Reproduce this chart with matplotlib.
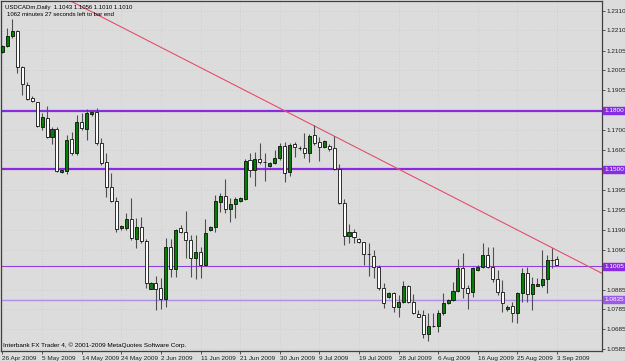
import matplotlib
matplotlib.use("Agg")
import matplotlib.pyplot as plt
import numpy as np

# ---- data (USDCADm, Daily) ----
opens = [1.2100, 1.2129, 1.2180, 1.2206, 1.2024, 1.1930, 1.1866, 1.1842, 1.1718, 1.1760,
         1.1667, 1.1704, 1.1486, 1.1493, 1.1653, 1.1582, 1.1743, 1.1704, 1.1781, 1.1791,
         1.1633, 1.1539, 1.1408, 1.1340, 1.1199, 1.1199, 1.1245, 1.1145, 1.1207, 1.1136,
         1.0891, 1.0919, 1.0893, 1.0837, 1.1102, 1.0990, 1.1199, 1.1182, 1.1140, 1.1046,
         1.1080, 1.1012, 1.1191, 1.1204, 1.1335, 1.1364, 1.1296, 1.1322, 1.1340, 1.1347,
         1.1548, 1.1497, 1.1551, 1.1537, 1.1517, 1.1531, 1.1556, 1.1619, 1.1488, 1.1628,
         1.1611, 1.1610, 1.1585, 1.1675, 1.1641, 1.1612, 1.1619, 1.1607, 1.1500, 1.1330,
         1.1160, 1.1179, 1.1143, 1.1128, 1.1068, 1.1059, 1.1000, 1.0893, 1.0847, 1.0868,
         1.0799, 1.0825, 1.0905, 1.0825, 1.0760, 1.0757, 1.0658, 1.0701, 1.0703, 1.0766,
         1.0817, 1.0834, 1.0881, 1.0995, 1.0893, 1.0873, 1.0987, 1.1000, 1.1061, 1.1000,
         1.0939, 1.0876, 1.0786, 1.0803, 1.0769, 1.0871, 1.0973, 1.0864, 1.0907, 1.0910,
         1.0939, 1.1037, 1.1043]
highs = [1.2135, 1.2220, 1.2266, 1.2211, 1.2027, 1.1946, 1.1874, 1.1844, 1.1788, 1.1823,
         1.1718, 1.1716, 1.1500, 1.1675, 1.1692, 1.1777, 1.1786, 1.1806, 1.1803, 1.1811,
         1.1660, 1.1582, 1.1480, 1.1360, 1.1216, 1.1276, 1.1352, 1.1252, 1.1258, 1.1145,
         1.0925, 1.0956, 1.0944, 1.1148, 1.1143, 1.1196, 1.1216, 1.1289, 1.1165, 1.1165,
         1.1105, 1.1245, 1.1211, 1.1369, 1.1378, 1.1449, 1.1352, 1.1361, 1.1361, 1.1551,
         1.1585, 1.1590, 1.1636, 1.1585, 1.1536, 1.1599, 1.1633, 1.1641, 1.1636, 1.1641,
         1.1620, 1.1684, 1.1680, 1.1726, 1.1667, 1.1650, 1.1629, 1.1670, 1.1527, 1.1347,
         1.1221, 1.1194, 1.1150, 1.1131, 1.1123, 1.1088, 1.1012, 1.0919, 1.0873, 1.0876,
         1.0859, 1.0932, 1.0912, 1.0864, 1.0784, 1.0782, 1.0766, 1.0766, 1.0782, 1.0868,
         1.0840, 1.0927, 1.1041, 1.1072, 1.0910, 1.1000, 1.1010, 1.1123, 1.1105, 1.1105,
         1.0986, 1.0935, 1.0808, 1.0825, 1.0876, 1.0995, 1.1000, 1.0949, 1.0946, 1.1088,
         1.1063, 1.1097, 1.1056]
lows = [1.2095, 1.2124, 1.2169, 1.1990, 1.1879, 1.1854, 1.1844, 1.1716, 1.1701, 1.1660,
        1.1629, 1.1486, 1.1482, 1.1476, 1.1573, 1.1573, 1.1701, 1.1650, 1.1772, 1.1624,
        1.1522, 1.1360, 1.1332, 1.1182, 1.1191, 1.1191, 1.1140, 1.1097, 1.1123, 1.0893,
        1.0888, 1.0782, 1.0785, 1.0799, 1.0952, 1.0952, 1.1174, 1.1046, 1.0952, 1.0939,
        1.0944, 1.1007, 1.1185, 1.1182, 1.1284, 1.1276, 1.1233, 1.1250, 1.1333, 1.1344,
        1.1463, 1.1415, 1.1527, 1.1442, 1.1512, 1.1527, 1.1547, 1.1437, 1.1466, 1.1561,
        1.1598, 1.1556, 1.1539, 1.1624, 1.1544, 1.1607, 1.1593, 1.1497, 1.1323, 1.1114,
        1.1123, 1.1123, 1.1125, 1.1012, 1.0957, 1.0944, 1.0884, 1.0791, 1.0843, 1.0774,
        1.0745, 1.0820, 1.0820, 1.0762, 1.0745, 1.0638, 1.0626, 1.0697, 1.0672, 1.0757,
        1.0812, 1.0830, 1.0876, 1.0842, 1.0786, 1.0851, 1.0983, 1.0995, 1.0995, 1.0927,
        1.0859, 1.0774, 1.0778, 1.0723, 1.0718, 1.0825, 1.0825, 1.0782, 1.0905, 1.0902,
        1.0868, 1.0995, 1.1010]
closes = [1.2129, 1.2180, 1.2206, 1.2024, 1.1934, 1.1859, 1.1849, 1.1723, 1.1766, 1.1667,
          1.1704, 1.1493, 1.1496, 1.1650, 1.1582, 1.1743, 1.1709, 1.1789, 1.1793, 1.1633,
          1.1534, 1.1408, 1.1339, 1.1194, 1.1211, 1.1247, 1.1148, 1.1207, 1.1136, 1.0919,
          1.0922, 1.0891, 1.0837, 1.1102, 1.0990, 1.1191, 1.1182, 1.1140, 1.1046, 1.1077,
          1.1012, 1.1174, 1.1204, 1.1339, 1.1364, 1.1296, 1.1322, 1.1349, 1.1355, 1.1544,
          1.1497, 1.1551, 1.1539, 1.1535, 1.1531, 1.1556, 1.1619, 1.1483, 1.1624, 1.1616,
          1.1609, 1.1585, 1.1670, 1.1636, 1.1612, 1.1645, 1.1604, 1.1500, 1.1330, 1.1160,
          1.1179, 1.1153, 1.1128, 1.1068, 1.1066, 1.1000, 1.0893, 1.0820, 1.0868, 1.0799,
          1.0825, 1.0905, 1.0825, 1.0769, 1.0748, 1.0658, 1.0701, 1.0703, 1.0766, 1.0820,
          1.0834, 1.0881, 1.0995, 1.0893, 1.0868, 1.0995, 1.1004, 1.1061, 1.1000, 1.0939,
          1.0876, 1.0817, 1.0800, 1.0769, 1.0871, 1.0973, 1.0864, 1.0915, 1.0914, 1.0939,
          1.1037, 1.1040, 1.1010]

date_labels = ["26 Apr 2009", "5 May 2009", "14 May 2009", "24 May 2009", "2 Jun 2009",
               "11 Jun 2009", "21 Jun 2009", "30 Jun 2009", "9 Jul 2009", "19 Jul 2009",
               "28 Jul 2009", "6 Aug 2009", "16 Aug 2009", "25 Aug 2009", "3 Sep 2009"]
date_label_every = 8

price_ticks = [1.2310, 1.2210, 1.2105, 1.2005, 1.1905, 1.1700, 1.1600, 1.1395, 1.1295,
               1.1190, 1.1090, 1.0885, 1.0785, 1.0685, 1.0585]

level_prices = [1.1800, 1.1500, 1.1005, 1.0835]
level_labels = ["1.1800", "1.1500", "1.1005", "1.0835"]

trend_bars = [14.44, 121.05]
trend_prices = [1.2350, 1.0970]

header1 = "USDCADm,Daily  1.1043 1.1056 1.1010 1.1010"
header2 = "1062 minutes 27 seconds left to bar end"
footer = "Interbank FX Trader 4, \u00a9 2001-2009 MetaQuotes Software Corp."

# ---- style ----
FONT = ["Liberation Sans", "DejaVu Sans"]
plt.rcParams["font.family"] = FONT
FS = 4.6
BG = "#dcdcdc"
W, H = 625, 361

fig = plt.figure(figsize=(W / 100, H / 100), dpi=100, facecolor=BG)
ax = fig.add_axes([1 / W, (H - 350.5) / H, (602 - 1) / W, (350.5 - 1) / H])
ax.set_facecolor(BG)

n = len(opens)
x = np.arange(n)
o = np.array(opens); c = np.array(closes); hi = np.array(highs); lo = np.array(lows)

ax.set_xlim(-0.3, 121.1)
ax.set_ylim(1.05757, 1.2359)

# grid
ax.set_yticks(price_ticks)
ax.set_xticks(np.arange(len(date_labels)) * date_label_every)
ax.grid(True, color="#c4c4c4", linestyle=(0, (1, 3)), linewidth=0.5, zorder=0)

# level lines
level_styles = [("#8a2be2", 1.6), ("#8a2be2", 1.6), ("#9040e0", 0.8), ("#b48ce8", 1.0)]
for p, (col, lw) in zip(level_prices, level_styles):
    ax.axhline(p, color=col, linewidth=lw, zorder=2)

# trend line
ax.axline((trend_bars[0], trend_prices[0]), (trend_bars[1], trend_prices[1]),
          color="#e2506e", linewidth=0.8, zorder=2)

# candles
ax.vlines(x, lo, hi, color="#505050", linewidth=0.8, zorder=3)
bull = c >= o
bottoms = np.minimum(o, c)
heights = np.maximum(np.abs(c - o), 0.00004)
colors = np.where(bull, "#008000", "#ffffff")
ax.bar(x, heights, bottom=bottoms, width=0.62, color=colors, edgecolor="#101010",
       linewidth=0.6, zorder=4)

# axes style
for s in ax.spines.values():
    s.set_color("#404040")
    s.set_linewidth(0.9)
ax.yaxis.tick_right()
ax.tick_params(axis="y", direction="out", length=2.0, width=0.6, color="#404040",
               labelsize=FS, pad=1.2, labelcolor="#202020")
ax.set_yticklabels([f"{v:.4f}" for v in price_ticks])
ax.tick_params(axis="x", direction="out", length=2.5, width=0.6, color="#404040",
               labelsize=FS, pad=1.5, labelcolor="#202020")
ax.set_xticklabels(date_labels)
for lab in ax.get_xticklabels():
    lab.set_horizontalalignment("left")

# level boxes on the price scale
box_cols = ["#8a2be2", "#8a2be2", "#8a2be2", "#9a5ae6"]
for p, t, bc in zip(level_prices, level_labels, box_cols):
    ax.text(1.0035, p, t, transform=ax.get_yaxis_transform(), ha="left", va="center",
            fontsize=FS, color="white", zorder=6, clip_on=False,
            bbox=dict(boxstyle="square,pad=0.15", facecolor=bc, edgecolor=bc))

# texts
ax.text(4 / 601, 1 - 3.5 / 349.5, header1, transform=ax.transAxes, ha="left", va="top",
        fontsize=4.3, color="black", zorder=7)
ax.text(6 / 601, 1 - 10.5 / 349.5, header2, transform=ax.transAxes, ha="left", va="top",
        fontsize=4.3, color="black", zorder=7)
ax.text(2 / 601, 3 / 349.5, footer, transform=ax.transAxes, ha="left", va="bottom",
        fontsize=4.6, color="black", zorder=7)

fig.savefig("out.png", dpi=100, facecolor=BG)
